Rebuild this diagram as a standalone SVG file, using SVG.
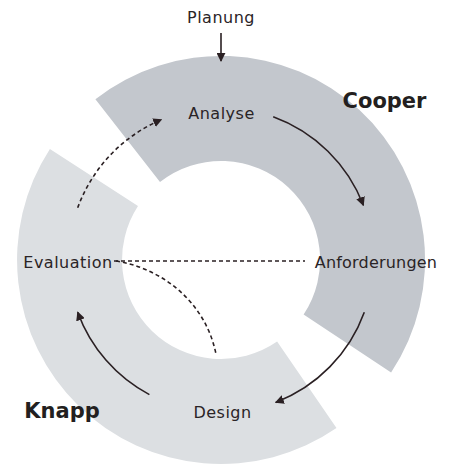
<svg xmlns="http://www.w3.org/2000/svg" width="449" height="465" viewBox="0 0 449 465">
<defs>
<marker id="ah" viewBox="0 0 10 10" refX="9" refY="5" markerWidth="9" markerHeight="9" markerUnits="userSpaceOnUse" orient="auto">
<path d="M0,0 L10,5 L0,10 Z" fill="#2a2023"/>
</marker>
<style>
.lbl{font-family:"DejaVu Sans",sans-serif;font-size:16px;letter-spacing:0.5px;fill:#2a2426;text-anchor:middle}
.big{font-family:"DejaVu Sans",sans-serif;font-size:21px;font-weight:bold;fill:#231f20;text-anchor:middle}
.solid{fill:none;stroke:#2a2023;stroke-width:1.6;marker-end:url(#ah)}
.dash{fill:none;stroke:#2a2023;stroke-width:1.6;stroke-dasharray:4 3}
</style>
</defs>
<g id="ring-knapp">
<path d="M336.5,428.1 A204,204 0 0 1 49.9,148.9 L138,206.1 A99,99 0 0 0 277.1,341.6 Z" fill="#dcdfe2"/>
</g>
<g id="ring-cooper">
<path d="M95.4,99.2 A204,204 0 0 1 391.1,372.6 L303.6,314.6 A99,99 0 0 0 160,182 Z" fill="#c3c7cd"/>
</g>
<g id="connectors">
<line class="solid" x1="221" y1="33" x2="221" y2="61"/>
<path class="solid" d="M273.2,116.7 A152.5,152.5 0 0 1 363.4,205.3"/>
<path class="solid" d="M364.3,312.2 A152.5,152.5 0 0 1 275.7,402.4"/>
<path class="solid" d="M149.4,394.6 A152.5,152.5 0 0 1 77.7,312.2"/>
<path class="dash" marker-end="url(#ah)" d="M77.7,207.8 A152.5,152.5 0 0 1 161.4,119.6"/>
<line class="dash" x1="114" y1="261" x2="305" y2="261"/>
<path class="dash" d="M116,261 C160,268 205,300 216,354"/>
</g>
<g id="planung"><text class="lbl" x="221" y="23">Planung</text></g>
<g id="analyse"><text class="lbl" x="221.5" y="119">Analyse</text></g>
<g id="anforderungen"><text class="lbl" x="376" y="268" style="letter-spacing:0.2px">Anforderungen</text></g>
<g id="design"><text class="lbl" x="222.5" y="418">Design</text></g>
<g id="evaluation"><text class="lbl" x="68" y="268">Evaluation</text></g>
<g id="cooper"><text class="big" x="384.5" y="108">Cooper</text></g>
<g id="knapp"><text class="big" x="62" y="418">Knapp</text></g>
</svg>
